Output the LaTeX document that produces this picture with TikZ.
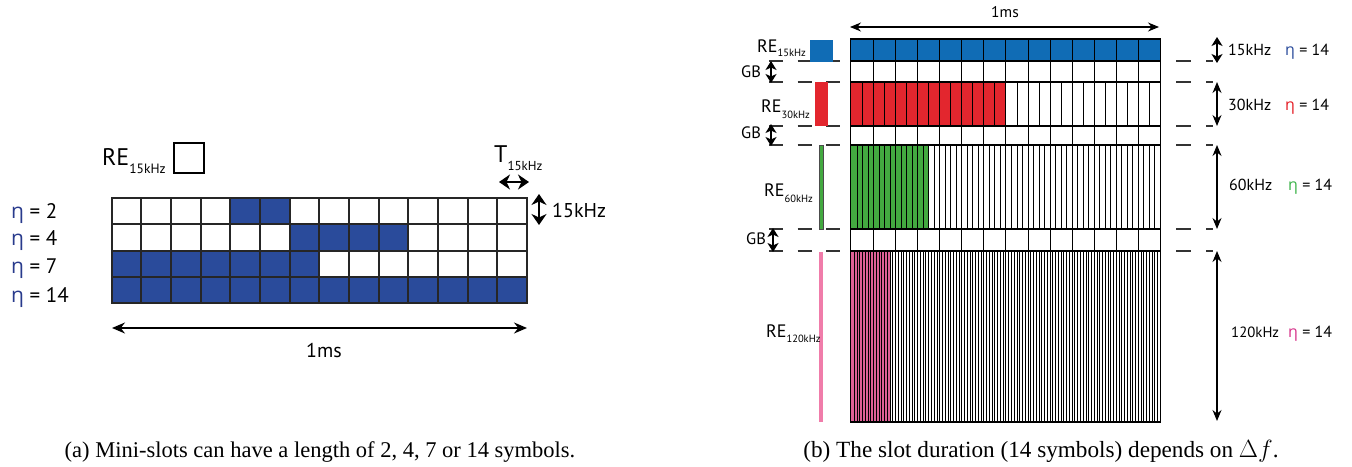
\documentclass[tikz,border=0pt]{standalone}
\usepackage{fontspec}
\setmainfont{Liberation Serif}
\setsansfont{PT Sans}
\newfontfamily\grk{Open Sans}
\usetikzlibrary{arrows.meta}
\definecolor{navy}{RGB}{42,75,155}
\definecolor{etanavy}{RGB}{40,58,140}
\definecolor{reblue}{RGB}{16,108,181}
\definecolor{rered}{RGB}{227,38,46}
\definecolor{regreen}{RGB}{67,169,64}
\definecolor{repink}{RGB}{222,96,150}
\definecolor{pinkline}{RGB}{240,124,170}
\definecolor{etared}{RGB}{228,30,38}
\definecolor{etagreen}{RGB}{60,179,74}
\definecolor{etapink}{RGB}{214,51,138}
\newcommand\fsz[1]{\fontsize{#1}{#1}\selectfont}
\begin{document}
\begin{tikzpicture}[x=1pt,y=-1pt,
  lab/.style={font=\sffamily, inner sep=0, anchor=base west},
  fat/.style={line width=2.4, {Stealth[length=11pt,width=15pt,inset=3.5pt]}-{Stealth[length=11pt,width=15pt,inset=3.5pt]}},
  fatsmall/.style={line width=2, {Stealth[length=9pt,width=11pt,inset=2.5pt]}-{Stealth[length=9pt,width=11pt,inset=2.5pt]}},
  dimarrow/.style={line width=1.1, {Stealth[length=11pt,width=9pt]}-{Stealth[length=11pt,width=9pt]}},
  longarrow/.style={line width=1.4, {Stealth[length=13pt,width=11pt]}-{Stealth[length=13pt,width=11pt]}},
  ldash/.style={line width=1.4, draw=black!80, dash pattern=on 14pt off 14.5pt},
  rdash/.style={line width=1.4, draw=black!80, dash pattern=on 15pt off 15pt},
  gridline/.style={line width=1.8, draw=black!85}]
\useasboundingbox (0,0) rectangle (1352,466);

% ---------------- panel (a) ----------------
\foreach \rr/\aa/\bb in {0/4/5, 1/6/9, 2/0/6, 3/0/13}
  \fill[navy] ({round(111.5+\aa*29.68)},{round(198+\rr*26.3)}) rectangle ({round(111.5+(\bb+1)*29.68)},{round(198+(\rr+1)*26.3)});
\foreach \ii in {0,...,14}
  \draw[gridline] ({round(111.5+\ii*29.68)},198) -- ({round(111.5+\ii*29.68)},303);
\foreach \jj in {0,...,4}
  \draw[gridline] (111,{round(198+\jj*26.3)}) -- (528,{round(198+\jj*26.3)});

\node[lab] (eta2) at (11,218) {\fsz{21}{\color{etanavy}\grk η} = 2};
\node[lab] (eta4) at (11,245) {\fsz{21}{\color{etanavy}\grk η} = 4};
\node[lab] (eta7) at (11,273) {\fsz{21}{\color{etanavy}\grk η} = 7};
\node[lab] (eta14) at (11,302) {\fsz{21}{\color{etanavy}\grk η} = 14};

\node[lab] (reA) at (102,165) {\fsz{24}RE\raisebox{-8.5pt}{\fsz{13.5}15kHz}};
\node[draw, line width=1.4, minimum size=30pt, inner sep=0] (boxA) at (189,158) {};
\node[lab] (tA) at (494,162) {\fsz{24}T\raisebox{-8pt}{\fsz{13}15kHz}};
\coordinate (tl) at (499,182);
\coordinate (tr) at (529,182);
\draw[fat] (tl) -- (tr);
\coordinate (fa) at (539,194);
\coordinate (fb) at (539,225);
\draw[fat] (fa) -- (fb);
\node[lab] (fA) at (552,217) {\fsz{20}15kHz};

\coordinate (msl) at (112,328);
\coordinate (msr) at (527,328);
\draw[longarrow] (msl) -- (msr);
\node[font=\sffamily, inner sep=0, anchor=base] (msA) at (324,357) {\fsz{20}1ms};

% ---------------- panel (b) ----------------
% dashed boundaries
\foreach \yy in {61,82,126,145,229,251} {
  \draw[ldash] (769,\yy) -- (841,\yy);
  \draw[rdash] (1176,\yy) -- (1213,\yy);
}
\foreach \ya/\yb/\nn/\col/\kk/\lw in {39/61/14/reblue/14/1.1, 61/82/14/white/0/1.1, 82/126/28/rered/14/1.1, 126/145/14/white/0/1.1, 145/229/56/regreen/14/1.0, 229/251/14/white/0/1.1, 251/422/112/repink/14/1.0} {
  \pgfmathsetmacro\ww{309/\nn}
  \ifnum\kk>0 \fill[\col] (851,\ya) rectangle ({round(851+\kk*\ww)+0.5},\yb); \fi
  \foreach \ii in {1,...,\nn} {
    \pgfmathsetmacro\xx{round(851+\ii*\ww)+0.5}
    \draw[line width=\lw] (\xx,\ya) -- (\xx,\yb);
  }
  \draw[line width=1.2] (850.5,\ya) rectangle (1160.5,\yb);
}

% RE markers
\fill[reblue] (810,40) rectangle (833,62);
\fill[rered] (815,82) rectangle (828,126);
\filldraw[fill=regreen, draw=black!70, line width=0.7] (819,145) rectangle (823.5,229);
\coordinate (pk1) at (821,252);
\coordinate (pk2) at (821,422);
\draw[pinkline, line width=3.2] (pk1) -- (pk2);

\node[lab] (re15) at (757,52) {\fsz{18}RE\raisebox{-4.5pt}{\fsz{10.5}15kHz}};
\node[lab] (re30) at (761,112) {\fsz{18}RE\raisebox{-6pt}{\fsz{10.5}30kHz}};
\node[lab] (re60) at (764,196) {\fsz{18}RE\raisebox{-6pt}{\fsz{10.5}60kHz}};
\node[lab] (re120) at (766,337) {\fsz{18}RE\raisebox{-5.5pt}{\fsz{10.5}120kHz}};

\node[lab] (gb1) at (741,77) {\fsz{16.5}GB};
\node[lab] (gb2) at (741,138) {\fsz{16.5}GB};
\node[lab] (gb3) at (746,244) {\fsz{16.5}GB};
\coordinate (g1a) at (771,61);  \coordinate (g1b) at (771,83);
\coordinate (g2a) at (771,124); \coordinate (g2b) at (771,146);
\coordinate (g3a) at (773,228); \coordinate (g3b) at (773,252);
\draw[fatsmall] (g1a) -- (g1b);
\draw[fatsmall] (g2a) -- (g2b);
\draw[fatsmall] (g3a) -- (g3b);

% top 1ms
\coordinate (tml) at (850,27);
\coordinate (tmr) at (1159,27);
\draw[dimarrow] (tml) -- (tmr);
\node[font=\sffamily, inner sep=0, anchor=base] (tms) at (1005,17) {\fsz{15.5}1ms};

% right dimension arrows
\coordinate (d1a) at (1217,37);  \coordinate (d1b) at (1217,63);
\coordinate (d2a) at (1217,82);  \coordinate (d2b) at (1217,126);
\coordinate (d3a) at (1217,145); \coordinate (d3b) at (1217,229);
\coordinate (d4a) at (1217,251); \coordinate (d4b) at (1217,421);
\draw[fatsmall] (d1a) -- (d1b);
\draw[dimarrow] (d2a) -- (d2b);
\draw[dimarrow] (d3a) -- (d3b);
\draw[dimarrow] (d4a) -- (d4b);

\node[lab] (f15) at (1228,55) {\fsz{16}15kHz};
\node[lab] (f30) at (1228,110) {\fsz{16}30kHz};
\node[lab] (f60) at (1229,190) {\fsz{16}60kHz};
\node[lab] (f120) at (1231,337) {\fsz{14.8}120kHz};
\node[lab] (n15) at (1285,55) {\fsz{16}{\color{navy}\grk η} = 14};
\node[lab] (n30) at (1285,110) {\fsz{16}{\color{etared}\grk η} = 14};
\node[lab] (n60) at (1288,190) {\fsz{16}{\color{etagreen}\grk η} = 14};
\node[lab] (n120) at (1288,337) {\fsz{16}{\color{etapink}\grk η} = 14};

% captions
\node[inner sep=0, anchor=base] (capA) at (320,457) {\fsz{22.5}(a) Mini-slots can have a length of 2, 4, 7 or 14 symbols.};
\node[inner sep=0, anchor=base] (capB) at (1041,457) {\fsz{23.2}(b) The slot duration (14 symbols) depends on $\Delta f$.};
\end{tikzpicture}
\end{document}
